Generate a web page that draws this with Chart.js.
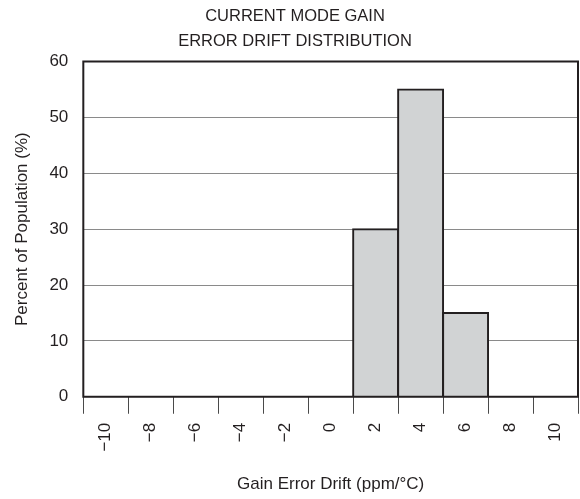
<!DOCTYPE html>
<html>
<head>
<meta charset="utf-8">
<script src="https://cdn.jsdelivr.net/npm/chart.js@4/dist/chart.umd.min.js"></script>
<style>
  html, body { margin: 0; padding: 0; background: #fff; }
  #wrap { width: 580px; height: 499px; }
</style>
</head>
<body>
<div id="wrap"><canvas id="myChart"></canvas></div>
<script>
// drift bins (ppm/°C) and share of population in each
var driftBins = ['−10', '−8', '−6', '−4', '−2', '0', '2', '4', '6', '8', '10'];
var percentPop = [0, 0, 0, 0, 0, 0, 30, 55, 15, 0, 0];
var yTicks = [0, 10, 20, 30, 40, 50, 60];

var font = "Liberation Sans, Arial, sans-serif";

// box round the plot area
var frame = {
  id: 'frame',
  afterDatasetsDraw: function (chart) {
    var a = chart.chartArea, ctx = chart.ctx;
    ctx.save();
    ctx.strokeStyle = '#231f20';
    ctx.lineWidth = 2;
    ctx.strokeRect(a.left, a.top, a.right - a.left, a.bottom - a.top);
    ctx.restore();
  }
};

var ctx = document.getElementById('myChart');
var chart = new Chart(ctx, {
  type: 'bar',
  data: {
    labels: driftBins,
    datasets: [{
      label: 'Percent of Population',
      data: percentPop,
      backgroundColor: '#d1d3d4',
      borderColor: '#231f20',
      borderWidth: 2,
      inflateAmount: 1,
      barPercentage: 1,
      categoryPercentage: 1
    }]
  },
  options: {
    responsive: true,
    maintainAspectRatio: false,
    animation: false,
    layout: { padding: { left: 12, right: 2, top: 4, bottom: 4 } },
    plugins: {
      legend: { display: false },
      tooltip: { enabled: false },
      title: {
        display: true,
        text: ['CURRENT MODE GAIN', 'ERROR DRIFT DISTRIBUTION'],
        color: '#231f20',
        font: { family: font, size: 16.5, weight: 'normal', lineHeight: 1.5 },
        padding: { top: 0, bottom: 8 }
      }
    },
    scales: {
      x: {
        offset: true,
        afterFit: function (s) { s.paddingRight = 0; },
        grid: {
          offset: true,
          drawOnChartArea: false,
          tickLength: 17,
          tickColor: '#4a4a4a',
          color: '#4a4a4a'
        },
        border: { display: false },
        ticks: {
          color: '#231f20',
          font: { family: font, size: 17 },
          minRotation: 90,
          maxRotation: 90,
          padding: 9
        },
        title: {
          display: true,
          text: 'Gain Error Drift (ppm/\u00B0C)',
          color: '#231f20',
          font: { family: font, size: 17 },
          padding: { top: 14, bottom: 0 }
        }
      },
      y: {
        min: 0,
        max: 60,
        afterBuildTicks: function (axis) {
          axis.ticks = yTicks.map(function (v) { return { value: v }; });
        },
        grid: {
          color: '#8a8a8a',
          lineWidth: 1,
          drawTicks: false
        },
        border: { display: false },
        ticks: {
          color: '#231f20',
          font: { family: font, size: 17 },
          padding: 15
        },
        title: {
          display: true,
          text: 'Percent of Population (%)',
          color: '#231f20',
          font: { family: font, size: 17 },
          padding: { top: 0, bottom: 2 }
        }
      }
    }
  },
  plugins: [frame]
});
</script>
</body>
</html>
